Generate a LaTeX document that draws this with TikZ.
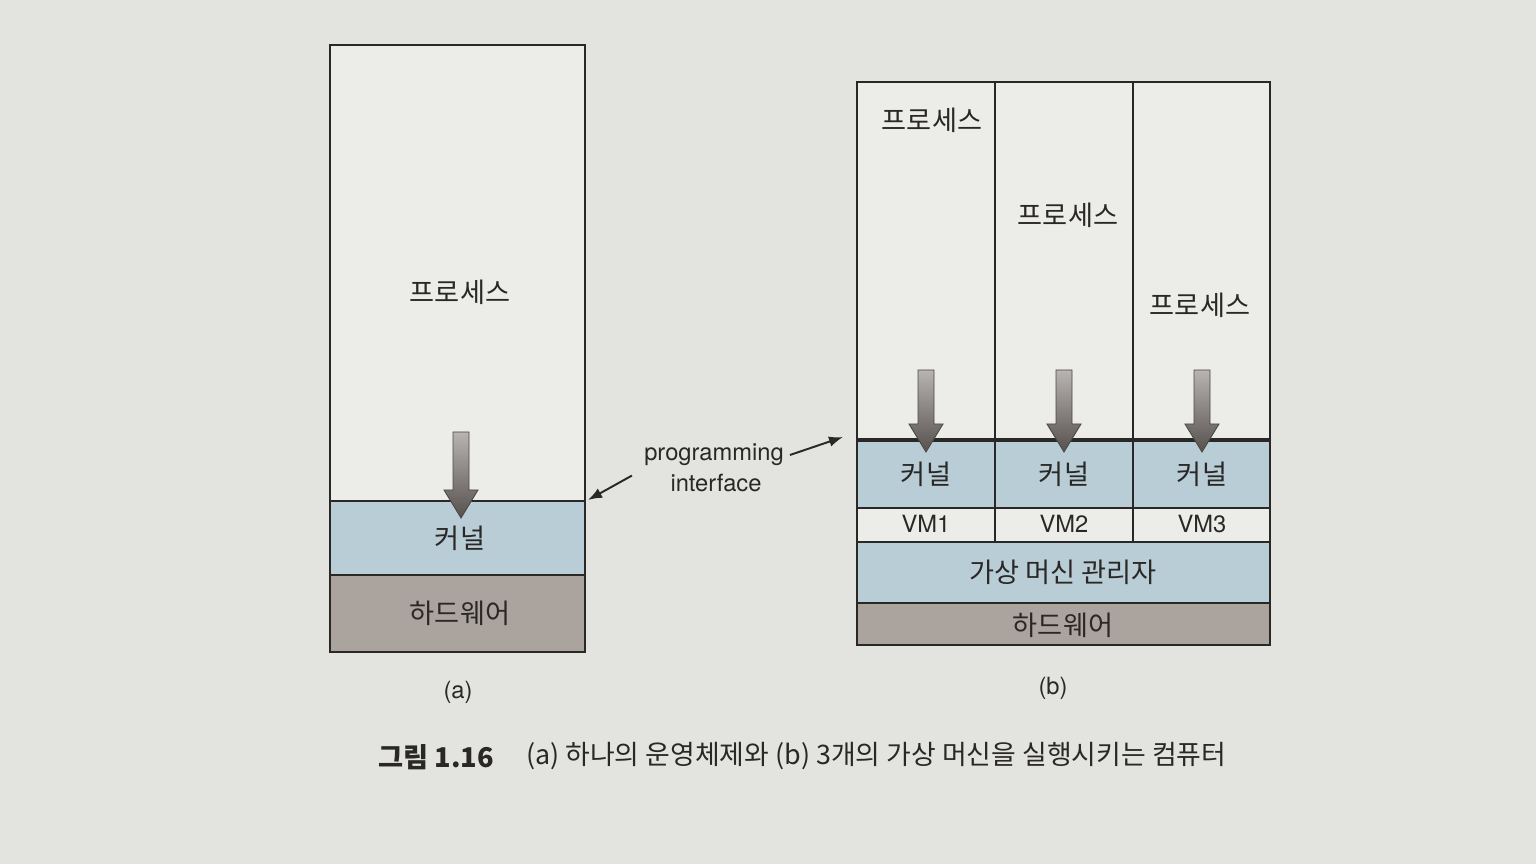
\documentclass[tikz,border=0pt]{standalone}
\usepackage{fontspec}
\setmainfont{TeX Gyre Heros}
\newfontfamily\kr{Noto Sans CJK KR}
\usetikzlibrary{arrows.meta}
\definecolor{paper}{HTML}{E3E3DF}
\definecolor{inner}{HTML}{ECECE8}
\definecolor{kernelblue}{HTML}{B9CDD7}
\definecolor{hwgray}{HTML}{AAA39E}
\definecolor{arrowlight}{HTML}{B8B4B2}
\definecolor{arrowdark}{HTML}{57514E}
\definecolor{ink}{HTML}{2A2826}
% thick shaded call arrow: x, top, tip
\newcommand{\callarrow}[3]{%
  \shadedraw[top color=arrowlight, bottom color=arrowdark, draw=ink!85, line width=0.5pt]
    (#1-8,#2) -- (#1+8,#2) -- (#1+8,#3-28) -- (#1+17,#3-28) -- (#1,#3)
    -- (#1-17,#3-28) -- (#1-8,#3-28) -- cycle;}

\begin{document}
\begin{tikzpicture}[x=0.02cm, y=-0.02cm,
    box/.style={draw=ink, line width=0.8pt},
    txt/.style={font=\kr\fontsize{15.5}{17}\selectfont, text=ink},
    lat/.style={font=\fontsize{13.5}{16}\selectfont, text=ink},
    pointer/.style={draw=ink, line width=1.1pt, -{Latex[length=8pt,width=6pt]}}]
    \fill[paper] (0,0) rectangle (1536,864);
    \useasboundingbox (0,0) rectangle (1536,864);

    % (a) one operating system
    \filldraw[box, fill=inner] (330,45) rectangle (585,652);
    \filldraw[box, fill=kernelblue] (330,501) rectangle (585,575);
    \filldraw[box, fill=hwgray] (330,575) rectangle (585,652);
    \draw[ink, line width=1.3pt] (330,501) -- (585,501);
    \callarrow{461}{432}{518}
    \node[txt] (procA) at (460,292) {프로세스};
    \node[txt] (kernelA) at (460,538) {커널};
    \node[txt] (hwA) at (460,613) {하드웨어};
    \node[lat] (capA) at (458,692) {(a)};

    % (b) three virtual machines
    \filldraw[box, fill=inner] (857,82) rectangle (1270,645);
    \filldraw[box, fill=kernelblue] (857,440) rectangle (1270,508);
    \filldraw[box, fill=inner] (857,508) rectangle (1270,542);
    \filldraw[box, fill=kernelblue] (857,542) rectangle (1270,603);
    \filldraw[box, fill=hwgray] (857,603) rectangle (1270,645);
    \foreach \x in {995,1133}
        \draw[box] (\x,82) -- (\x,542);
    \draw[ink, line width=2.8pt] (857,440) -- (1270,440);
    \node[txt] (procB1) at (932,120) {프로세스};
    \node[txt] (procB2) at (1068,215) {프로세스};
    \node[txt] (procB3) at (1200,305) {프로세스};
    \foreach \x/\n in {926/1,1064/2,1202/3} {
        \callarrow{\x}{370}{452}
        \node[txt] (kernelB\n) at (\x,474) {커널};
        \node[lat] (vm\n) at (\x,524) {VM\n};
    }
    \node[txt] (vmm) at (1063,572) {가상 머신 관리자};
    \node[txt] (hwB) at (1063,625) {하드웨어};
    \node[lat] (capB) at (1053,688) {(b)};

    % programming interface
    \node[lat] (prog) at (714,455) {programming};
    \node[lat] (iface) at (716,483) {interface};
    \coordinate (apiA) at (588,500);
    \coordinate (apiB) at (843,437);
    \draw[pointer, shorten <=4pt] (prog.south west) -- (apiA);
    \draw[pointer] (prog.east) -- (apiB);

    % caption
    \node[font=\kr\bfseries\fontsize{15.5}{17}\selectfont, text=ink, anchor=west] (figno) at (372,757) {그림 1.16};
    \node[font=\kr\fontsize{15.3}{17}\selectfont, text=ink, anchor=west] (figtitle) at (520,756) {(a) 하나의 운영체제와 (b) 3개의 가상 머신을 실행시키는 컴퓨터};
\end{tikzpicture}
\end{document}
